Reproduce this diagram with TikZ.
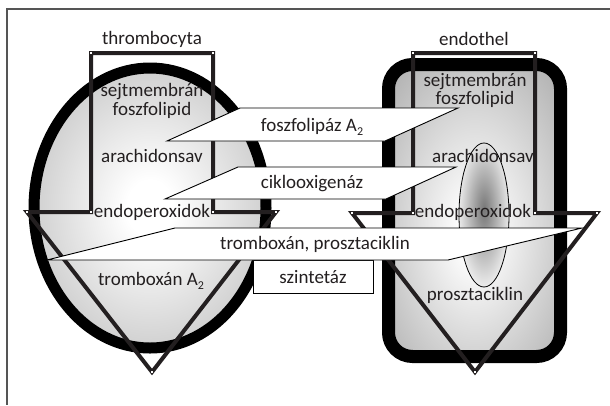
\documentclass[tikz,border=0pt]{standalone}
\usepackage{fontspec}
\setmainfont{Carlito}
\definecolor{inkc}{HTML}{231F20}
\definecolor{framec}{HTML}{555555}
\definecolor{cellgray}{HTML}{969696}
\definecolor{cellgrayb}{HTML}{8C8C8C}
\definecolor{spotc}{HTML}{777777}
\pgfdeclareradialshading{cellshade}{\pgfpoint{0bp}{0bp}}{color(0bp)=(white); color(5bp)=(white); color(50bp)=(cellgray); color(80bp)=(cellgray)}
\pgfdeclareradialshading{cellshadeb}{\pgfpoint{0bp}{-4bp}}{color(0bp)=(white); color(4bp)=(white); color(50bp)=(cellgrayb); color(80bp)=(cellgrayb)}
\pgfdeclareradialshading{spotshade}{\pgfpoint{0bp}{2bp}}{color(0bp)=(spotc); color(30bp)=(white); color(50bp)=(white)}
\newcommand{\subtwo}{\raisebox{-0.45ex}{\fontsize{12}{12}\selectfont 2}}
\begin{document}
\begin{tikzpicture}[x=1pt,y=-1pt,
  ink/.style={draw=inkc, line width=4pt, line join=miter},
  banner/.style={draw=black, fill=white, line width=0.9pt, line join=miter},
  lbl/.style={text=inkc, font=\fontsize{19}{18.5}\selectfont, inner sep=0pt, align=center},
  vdot/.style={fill=white, inner sep=0pt, minimum size=2.2pt, rectangle}
]
\useasboundingbox (0,0) rectangle (610,405);
\fill[white] (0,0) rectangle (610,405);

% frame edges
\coordinate (fr) at (610,9);
\coordinate (fc) at (7,9);
\coordinate (fb) at (7,405);
\draw[framec, line width=1.5pt] (fr) -- (fc) -- (fb);

% thrombocyta cell
\shadedraw[shading=cellshade, draw=black, line width=11pt] (150,208) ellipse [x radius=116, y radius=140];

% endothel cell
\shadedraw[shading=cellshadeb, draw=black, line width=13pt, rounded corners=24pt] (388.5,64.5) rectangle (560.5,356.5);
\shadedraw[shading=spotshade, draw=black, line width=0.8pt] (484,215) ellipse [x radius=25, y radius=72];

% thrombocyta compartments outline
\coordinate (t1) at (91,53);
\coordinate (t2) at (213,53);
\coordinate (t3) at (213,212);
\coordinate (t4) at (276,212);
\coordinate (t5) at (152,372);
\coordinate (t6) at (27,212);
\coordinate (t7) at (91,212);
\draw[ink] (t1) -- (t2) -- (t3) -- (t4) -- (t5) -- (t6) -- (t7) -- cycle;
\foreach \p in {t1,t2,t3,t4,t5,t6,t7} \node[vdot] at (\p) {};

% endothel compartments outline
\coordinate (e1) at (413,53);
\coordinate (e2) at (535,53);
\coordinate (e3) at (535,213);
\coordinate (e4) at (597,213);
\coordinate (e5) at (475,372);
\coordinate (e6) at (352,213);
\coordinate (e7) at (413,213);
\draw[ink] (e1) -- (e2) -- (e3) -- (e4) -- (e5) -- (e6) -- (e7) -- cycle;
\foreach \p in {e1,e2,e3,e4,e5,e6,e7} \node[vdot] at (\p) {};

% cell labels
\node[lbl] (thr) at (152,39) {thrombocyta};
\node[lbl] (end) at (474,39) {endothel};
\node[lbl] (tsejt) at (152,101) {sejtmembrán\\foszfolipid};
\node[lbl] (tarach) at (152,156) {arachidonsav};
\node[lbl] (tendo) at (152,212) {endoperoxidok};
\node[lbl] (ttx) at (151,281) {tromboxán A\subtwo};
\node[lbl] (esejt) at (475,90.5) {sejtmembrán\\foszfolipid};
\node[lbl] (earach) at (483,156) {arachidonsav};
\node[lbl] (eendo) at (473,212) {endoperoxidok};
\node[lbl] (eprc) at (475,295) {prosztaciklin};

% enzyme banners
\draw[banner] (167,141) -- (240,108) -- (458,108) -- (385,141) -- cycle;
\draw[banner] (165,199) -- (238,167) -- (456,167) -- (386,199) -- cycle;
\draw[banner] (253,260) rectangle (373,293);
\draw[banner] (47,260) -- (175,228) -- (582,228) -- (448,260) -- cycle;
\node[lbl] (b1) at (312,127) {foszfolipáz A\subtwo};
\node[lbl] (b2) at (312,184) {ciklooxigenáz};
\node[lbl] (b3) at (315,244) {tromboxán, prosztaciklin};
\node[lbl] (b4) at (313,277) {szintetáz};
\end{tikzpicture}
\end{document}
